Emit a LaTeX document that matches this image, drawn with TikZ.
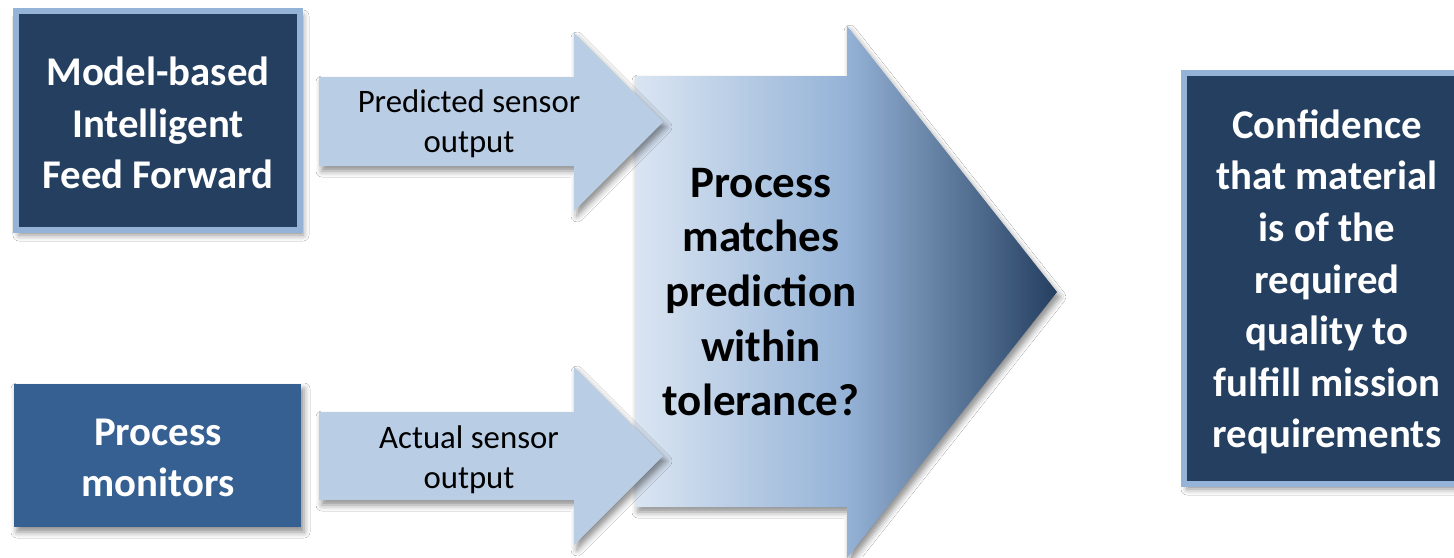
\documentclass[tikz,border=0pt]{standalone}
\usepackage{fontspec}
\setmainfont{Carlito}
\usetikzlibrary{shadows.blur}
\definecolor{navy}{HTML}{243F60}
\definecolor{bordblue}{HTML}{95B3D7}
\definecolor{midblue}{HTML}{376092}
\definecolor{arrowblue}{HTML}{B9CDE5}
\definecolor{gradlight}{HTML}{DAE5F2}
\definecolor{gradmid}{HTML}{95B3D7}
\definecolor{graddark}{HTML}{243F60}
\begin{document}
\begin{tikzpicture}[x=0.5pt,y=-0.5pt,
  softshadow/.style={blur shadow={shadow xshift=1.5pt,shadow yshift=-2.5pt,shadow blur radius=3pt,shadow opacity=45}},
  boxtext/.style={text=white,font=\bfseries\fontsize{20.4}{25.8}\selectfont,align=center,inner sep=0pt},
  darkbox/.style={draw=bordblue,line width=3pt,fill=navy,softshadow,inner sep=0pt},
  bluebox/.style={fill=midblue,softshadow,inner sep=0pt},
  smallarrow/.style={fill=arrowblue,softshadow},
  bigarrow/.style={left color=gradlight,right color=graddark,middle color=gradmid,softshadow},
  smalltext/.style={text=black,font=\fontsize{16.4}{20}\selectfont,align=center,inner sep=0pt},
  bigtext/.style={text=black,font=\bfseries\fontsize{22.5}{27.3}\selectfont,align=center,inner sep=0pt}
]
\useasboundingbox (0,0) rectangle (1454,557);
\clip (0,0) rectangle (1454,557);
\fill[white] (0,0) rectangle (1454,557);

% big arrow
\path[bigarrow] (635,76) -- (847,76) -- (847,26) -- (1057,292) -- (847,558) -- (847,507) -- (635,507) -- cycle;
\node[bigtext] (check) at (761,292) {Process\\matches\\prediction\\within\\tolerance?};

% left boxes
\node[darkbox,minimum width=142pt,minimum height=109.5pt] (mbiff) at (158,120.5) {};
\node[boxtext] (mbifftext) at (158,123) {Model-based\\Intelligent\\Feed Forward};
\node[bluebox,minimum width=143.5pt,minimum height=71.5pt] (pm) at (157.5,455.5) {};
\node[boxtext] (pmtext) at (158,458) {Process\\monitors};

% small arrows
\path[smallarrow] (319,77) -- (574,77) -- (574,33) -- (663,122) -- (574,211) -- (574,166) -- (319,166) -- cycle;
\node[smalltext] (pso) at (469,124) {Predicted sensor\\output};
\path[smallarrow] (319,412) -- (574,412) -- (574,367) -- (663,456) -- (574,545) -- (574,500) -- (319,500) -- cycle;
\node[smalltext] (aso) at (469,459.5) {Actual sensor\\output};

% right box
\node[darkbox,minimum width=143pt,minimum height=205.5pt] (conf) at (1327,278.5) {};
\node[boxtext] (conftext) at (1327,282) {Confidence\\that material\\is of the\\required\\quality to\\fulfill mission\\requirements};
\end{tikzpicture}
\end{document}
